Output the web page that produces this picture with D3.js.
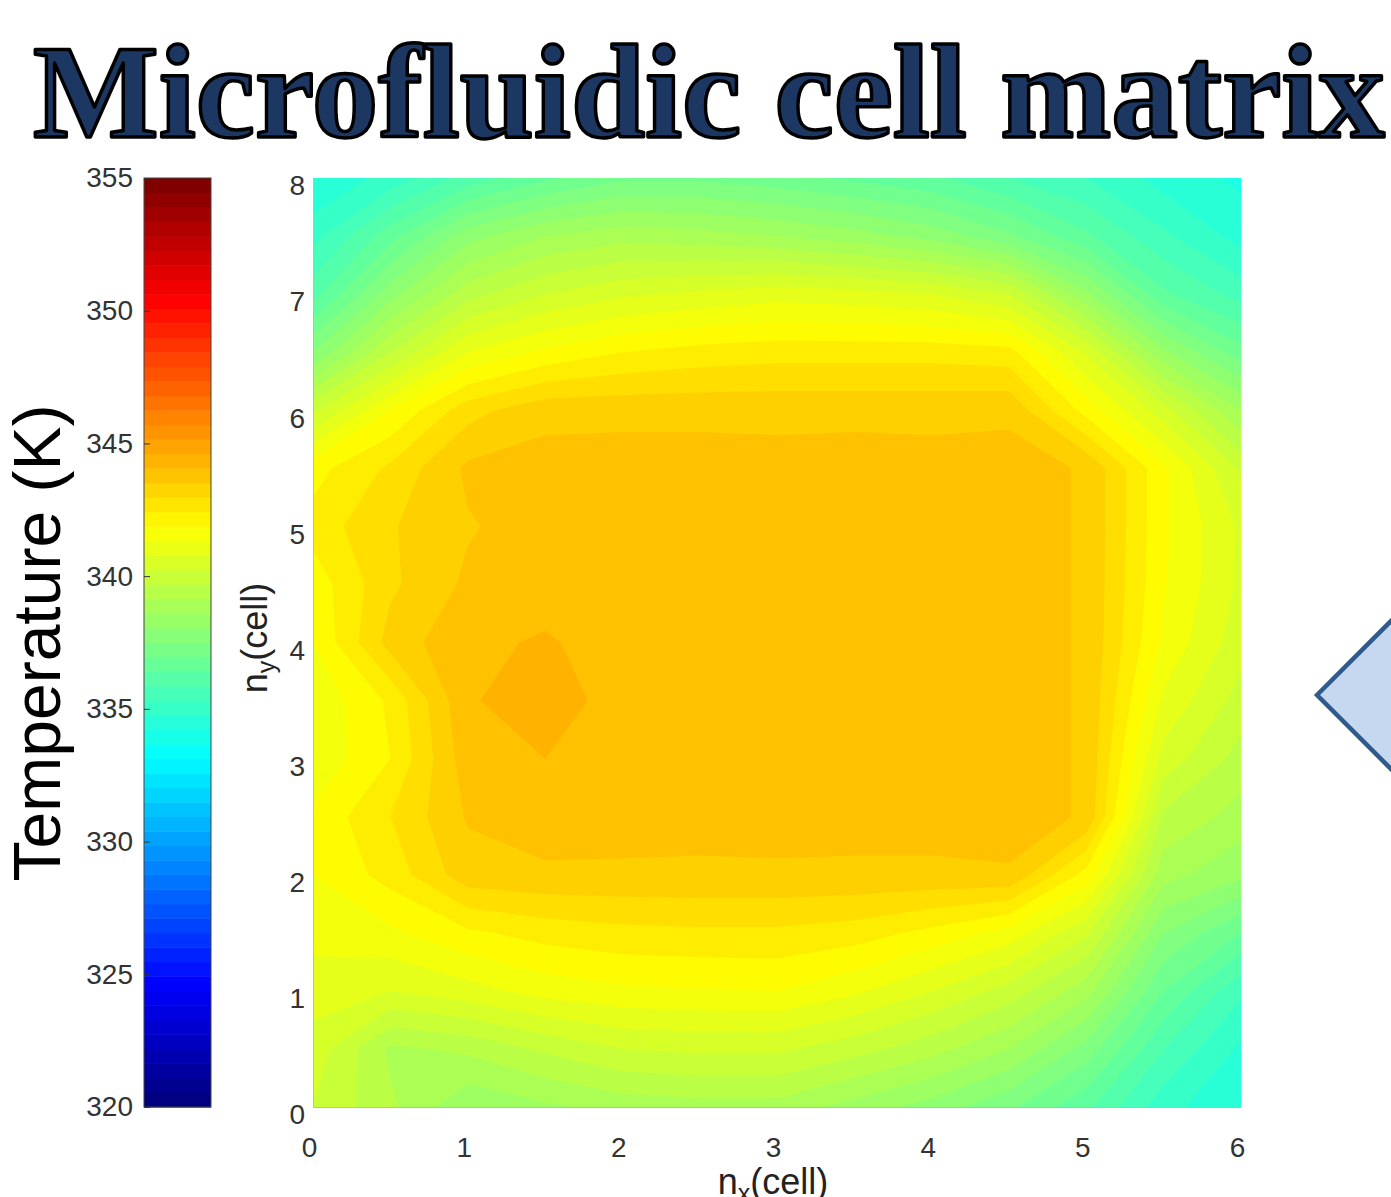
<!DOCTYPE html>
<html>
<head>
<meta charset="utf-8">
<script src="https://d3js.org/d3.v7.min.js"></script>
<style>
body { margin: 0; background: #fff; }
svg { display: block; }
.tick text { font-family: "Liberation Sans", Arial, sans-serif; font-size: 28px; fill: #333; }
</style>
</head>
<body>
<div class="chart"></div>
<script>
// grid positions (cells)
var gridX = [0, 0.5, 1, 1.5, 2, 2.5, 3, 3.5, 4, 4.5, 5, 5.5, 6];
var gridY = [8, 7.5, 7, 6.5, 6, 5.5, 5, 4.5, 4, 3.5, 3, 2.5, 2, 1.5, 1, 0.5, 0];

// temperature (K), one row per gridY value, top row first
var tempRows = [
  [334.5, 335.2, 336.2, 336.9, 337.4, 337.4, 337.2, 336.9, 336.6, 336.0, 335.5, 334.8, 334.4],
  [335.3, 336.8, 338.3, 339.0, 339.3, 339.2, 339.0, 338.7, 338.3, 337.6, 336.6, 335.6, 334.8],
  [336.3, 338.3, 339.8, 340.5, 340.9, 341.1, 341.3, 341.2, 341.0, 340.5, 338.6, 336.6, 335.8],
  [338.0, 340.0, 341.5, 342.1, 342.5, 342.7, 342.8, 342.8, 342.8, 342.7, 340.9, 338.6, 337.2],
  [340.4, 342.0, 343.3, 343.85, 343.85, 343.85, 343.85, 343.85, 343.85, 343.9, 342.3, 340.7, 339.0],
  [342.3, 343.1, 344.1, 344.2, 344.25, 344.25, 344.2, 344.25, 344.2, 344.2, 343.95, 342.1, 340.4],
  [342.7, 343.45, 343.95, 344.25, 344.25, 344.2, 344.2, 344.25, 344.25, 344.2, 343.95, 342.1, 340.9],
  [342.2, 343.4, 344.1, 344.3, 344.25, 344.2, 344.25, 344.2, 344.2, 344.2, 343.95, 342.05, 340.9],
  [342.0, 343.7, 344.4, 344.55, 344.3, 344.25, 344.2, 344.25, 344.2, 344.2, 343.95, 341.9, 340.7],
  [341.6, 342.6, 344.45, 344.75, 344.3, 344.25, 344.25, 344.2, 344.25, 344.2, 343.95, 341.4, 340.3],
  [341.6, 342.5, 344.3, 344.5, 344.3, 344.25, 344.2, 344.25, 344.2, 344.2, 343.95, 340.8, 339.8],
  [342.1, 343.0, 344.05, 344.3, 344.25, 344.2, 344.25, 344.2, 344.2, 344.2, 343.95, 339.9, 339.3],
  [342.0, 342.7, 343.8, 343.9, 343.9, 343.9, 343.9, 343.9, 343.9, 343.95, 342.3, 339.2, 338.6],
  [341.7, 341.9, 342.4, 342.7, 342.85, 342.9, 342.9, 342.75, 342.35, 341.8, 340.6, 338.0, 337.0],
  [341.2, 341.0, 341.3, 341.7, 341.9, 341.95, 342.0, 341.6, 341.0, 340.3, 339.2, 337.0, 335.6],
  [340.8, 339.4, 339.6, 340.1, 340.5, 340.6, 340.6, 340.2, 339.7, 339.0, 337.8, 336.0, 334.9],
  [340.5, 339.6, 338.6, 338.9, 339.2, 339.3, 339.3, 338.8, 338.3, 337.6, 336.6, 335.2, 334.5]
];

var xTicks = [0, 1, 2, 3, 4, 5, 6];
var yTicks = [0, 1, 2, 3, 4, 5, 6, 7, 8];
var cbarTicks = [320, 325, 330, 335, 340, 345, 350, 355];
var tempRange = [320, 355];
var levelStep = 0.5;
var cmapSize = 64;

var svgWidth = 1391;
var svgHeight = 1197;
var plot = { left: 313, right: 1241, top: 178, bottom: 1107 };
var cbar = { left: 144, right: 211 };

var svg = d3.select(".chart")
  .append("svg")
  .attr("width", svgWidth)
  .attr("height", svgHeight);

// matlab style jet colormap
function jet(v) {
  var t = (v - tempRange[0]) / (tempRange[1] - tempRange[0]);
  function ch(c) { return Math.max(0, Math.min(1, 1.5 - Math.abs(4 * t - c))) * 255; }
  return d3.rgb(ch(3), ch(2), ch(1)).toString();
}

// Title
svg.append("text")
  .attr("x", 33)
  .attr("y", 137)
  .attr("textLength", 1352)
  .attr("lengthAdjust", "spacingAndGlyphs")
  .style("font-family", "'Liberation Serif', 'Times New Roman', serif")
  .style("font-weight", "bold")
  .style("font-size", "134px")
  .style("fill", "#1c3761")
  .style("stroke", "#000")
  .style("stroke-width", "3.5px")
  .style("stroke-linejoin", "round")
  .text("Microfluidic cell matrix");

// Scales
var xScale = d3.scaleLinear().domain([0, 6]).range([plot.left, plot.right]);
var yScale = d3.scaleLinear().domain([0, 8]).range([plot.bottom, plot.top]);
var colToX = d3.scaleLinear().domain([0, gridX.length - 1]).range([gridX[0], gridX[gridX.length - 1]]);
var rowToY = d3.scaleLinear().domain([0, gridY.length - 1]).range([gridY[0], gridY[gridY.length - 1]]);

// Filled contours
var levels = d3.range(tempRange[0], tempRange[1], levelStep);
var contours = d3.contours()
  .size([gridX.length, gridY.length])
  .thresholds(levels)(d3.merge(tempRows));

var project = d3.geoTransform({
  point: function(px, py) {
    this.stream.point(xScale(colToX(px - 0.5)), yScale(rowToY(py - 0.5)));
  }
});
var path = d3.geoPath(project);

svg.append("clipPath")
  .attr("id", "plotClip")
  .append("rect")
  .attr("x", plot.left)
  .attr("y", plot.top)
  .attr("width", plot.right - plot.left)
  .attr("height", plot.bottom - plot.top);

svg.append("g")
  .attr("clip-path", "url(#plotClip)")
  .selectAll("path")
  .data(contours)
  .enter()
  .append("path")
  .attr("d", path)
  .attr("fill", d => jet(d.value));

// Axes
var leftAxis = d3.axisLeft(yScale).tickValues(yTicks).tickFormat(d3.format("d")).tickSize(0).tickPadding(8);
var bottomAxis = d3.axisBottom(xScale).tickValues(xTicks).tickFormat(d3.format("d")).tickSize(0).tickPadding(30);

var gy = svg.append("g")
  .attr("transform", `translate(${plot.left}, 0)`)
  .call(leftAxis);
gy.selectAll(".tick text").attr("dy", "0.6em");
gy.select(".domain").attr("stroke", "#bbb");

var gx = svg.append("g")
  .attr("transform", `translate(0, ${plot.bottom})`)
  .call(bottomAxis);
gx.selectAll(".tick text").attr("dx", "-4");
gx.select(".domain").attr("stroke", "#bbb");

// Axis labels
var ylab = svg.append("text")
  .attr("transform", "translate(267, 638) rotate(-90)")
  .style("text-anchor", "middle")
  .style("font-family", "'Liberation Sans', Arial, sans-serif")
  .style("font-size", "36px")
  .style("fill", "#222");
ylab.append("tspan").text("n");
ylab.append("tspan").attr("dy", 8).style("font-size", "25px").text("y");
ylab.append("tspan").attr("dy", -8).text("(cell)");

// sits on the lower edge, as in the source image
var xlab = svg.append("text")
  .attr("x", 773)
  .attr("y", 1194)
  .style("text-anchor", "middle")
  .style("font-family", "'Liberation Sans', Arial, sans-serif")
  .style("font-size", "36px")
  .style("fill", "#222");
xlab.append("tspan").text("n");
xlab.append("tspan").attr("dy", 8).style("font-size", "25px").text("x");
xlab.append("tspan").attr("dy", -8).text("(cell)");

// Colorbar
var cScale = d3.scaleLinear().domain(tempRange).range([plot.bottom, plot.top]);
var cStep = (tempRange[1] - tempRange[0]) / cmapSize;

svg.append("g")
  .selectAll("rect")
  .data(d3.range(cmapSize))
  .enter()
  .append("rect")
  .attr("x", cbar.left)
  .attr("width", cbar.right - cbar.left)
  .attr("y", i => cScale(tempRange[0] + (i + 1) * cStep))
  .attr("height", i => cScale(tempRange[0] + i * cStep) - cScale(tempRange[0] + (i + 1) * cStep) + 0.5)
  .attr("fill", i => jet(tempRange[0] + i / (cmapSize - 1) * (tempRange[1] - tempRange[0])));

svg.append("rect")
  .attr("x", cbar.left)
  .attr("y", plot.top)
  .attr("width", cbar.right - cbar.left)
  .attr("height", plot.bottom - plot.top)
  .attr("fill", "none")
  .attr("stroke", "#444")
  .attr("stroke-width", 1);

var cAxis = d3.axisLeft(cScale).tickValues(cbarTicks).tickSizeInner(-6).tickSizeOuter(0).tickPadding(11);
var gc = svg.append("g")
  .attr("transform", `translate(${cbar.left}, 0)`)
  .call(cAxis);
gc.select(".domain").remove();
gc.selectAll(".tick line").attr("stroke", "#333");

svg.append("text")
  .attr("transform", "translate(60, 643) rotate(-90)")
  .style("text-anchor", "middle")
  .style("font-family", "'Liberation Sans', Arial, sans-serif")
  .style("font-size", "66px")
  .style("fill", "#000")
  .text("Temperature (K)");

// Diamond shape at the right edge
svg.append("polygon")
  .attr("points", "1317,695 1420,592 1523,695 1420,798")
  .attr("fill", "#c6d7f0")
  .attr("stroke", "#2f5a8e")
  .attr("stroke-width", 4.5);
</script>
</body>
</html>
